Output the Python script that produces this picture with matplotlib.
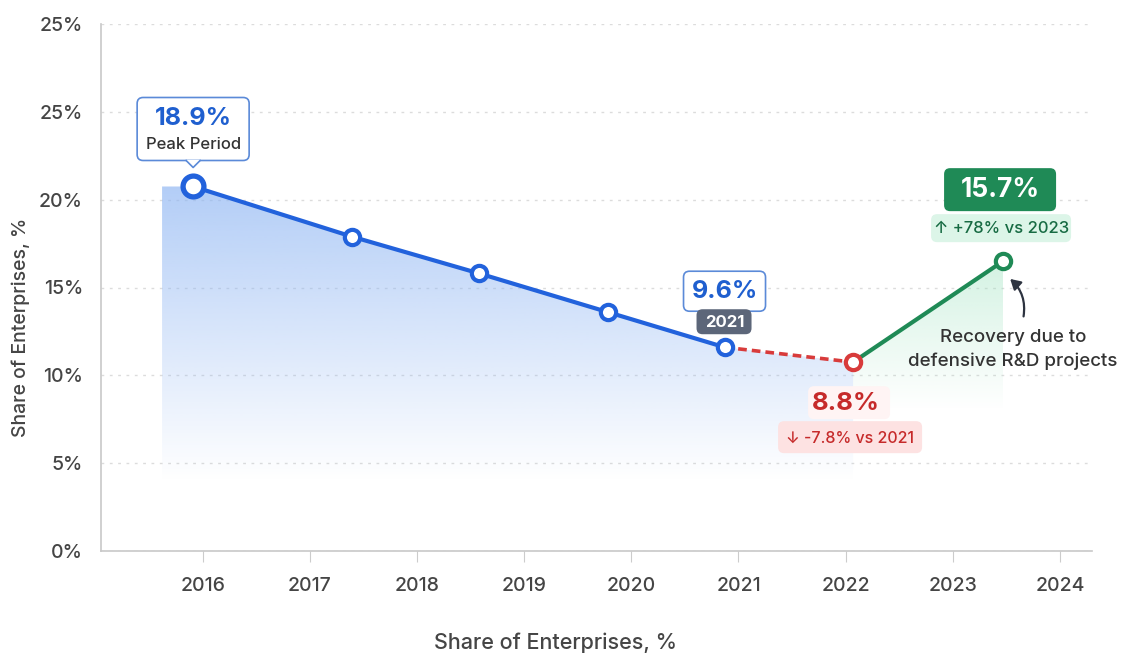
import numpy as np
import matplotlib
matplotlib.use('Agg')
import matplotlib.pyplot as plt
import matplotlib.colors as mcolors
import matplotlib.transforms as mtransforms
from matplotlib.patches import FancyBboxPatch, Polygon, FancyArrowPatch

plt.rcParams['font.family'] = ['Inter', 'DejaVu Sans']

# data
years = [2015.91, 2017.39, 2018.58, 2019.78, 2020.87, 2022.07, 2023.47]
share = [20.75, 17.9, 15.8, 13.6, 11.6, 10.75, 16.5]
tick_years = [2016, 2017, 2018, 2019, 2020, 2021, 2022, 2023, 2024]
y_ticks = [0, 5, 10, 15, 20, 25, 30]
y_labels = ['0%', '5%', '10%', '15%', '20%', '25%', '25%']

BLUE = '#2262dc'
RED = '#d83b3b'
GREEN = '#1f8a56'
GRAY = '#454545'

fig = plt.figure(figsize=(11.22, 6.55), dpi=100)
ax = fig.add_axes([101 / 1122, 1 - 551 / 655, 991 / 1122, 527 / 655])


def at(i):
    # pixel offsets relative to a data point
    return mtransforms.Affine2D() + mtransforms.ScaledTranslation(years[i], share[i], ax.transData)


def grad_fill(xs, ys, color, top, bottom, a0):
    poly = ax.fill_between(xs, ys, 0, color='none', lw=0)
    img = np.zeros((256, 1, 4))
    img[:, :, :3] = mcolors.to_rgb(color)
    img[:, 0, 3] = np.linspace(a0, 0, 256)
    im = ax.imshow(img, extent=[min(xs), max(xs), bottom, top], aspect='auto',
                   origin='upper', zorder=1, interpolation='bilinear')
    im.set_clip_path(poly.get_paths()[0], ax.transData)


# gradient areas
grad_fill([2015.62] + years[:6], [share[0]] + share[:6], '#8fb6f3', share[0], 4.0, 0.68)
grad_fill(years[5:], share[5:], '#9fe3c0', share[6], 8.0, 0.45)

# lines
ax.plot(years[:5], share[:5], color=BLUE, lw=3, zorder=3, solid_capstyle='round')
ax.plot(years[4:6], share[4:6], color=RED, lw=2.6, ls=(0, (2.4, 1.4)), zorder=3)
ax.plot(years[5:], share[5:], color=GREEN, lw=3, zorder=3, solid_capstyle='round')

ax.plot(years[0], share[0], 'o', ms=15, mfc='white', mec=BLUE, mew=3.8, zorder=4)
ax.plot(years[1:5], share[1:5], 'o', ms=11, mfc='white', mec=BLUE, mew=3, zorder=4)
ax.plot(years[5], share[5], 'o', ms=11, mfc='white', mec=RED, mew=3, zorder=4)
ax.plot(years[6], share[6], 'o', ms=11, mfc='white', mec=GREEN, mew=3, zorder=4)

ax.set_xlim(2015.05, 2024.3)
ax.set_ylim(0, 30)
ax.set_xticks(tick_years)
ax.set_xticklabels([str(t) for t in tick_years], fontweight='medium')
ax.set_yticks(y_ticks)
ax.set_yticklabels(y_labels, fontweight='medium')
ax.tick_params(axis='x', length=8, color='#cccccc', labelsize=14, labelcolor=GRAY, pad=11)
ax.tick_params(axis='y', length=0, labelsize=14, labelcolor=GRAY, pad=13)
ax.grid(axis='y', color='#dcdcdc', ls=(0, (2, 4)), lw=1)
ax.set_axisbelow(True)
for s in ['top', 'right']:
    ax.spines[s].set_visible(False)
for s in ['left', 'bottom']:
    ax.spines[s].set_color('#c8c8c8')
    ax.spines[s].set_linewidth(1.2)

fig.text(21 / 1122, 1 - 327 / 655, 'Share of Enterprises, %', rotation=90, ha='center',
         va='center', fontsize=14, color=GRAY, fontweight='medium')
fig.text(556 / 1122, 1 - 643 / 655, 'Share of Enterprises, %', ha='center', va='center',
         fontsize=15.5, color=GRAY, fontweight='medium')


def box(i, x0, x1, y0, y1, fc, ec=None, lw=1.2, pointer=False):
    p = FancyBboxPatch((x0, y0), x1 - x0, y1 - y0, boxstyle='round,pad=0,rounding_size=6',
                       fc=fc, ec=ec if ec else 'none', lw=lw, transform=at(i), zorder=6)
    ax.add_patch(p)
    if pointer:
        tri = Polygon([(-7, y0 + 0.5), (7, y0 + 0.5), (0, y0 - 7)], closed=True, fc=fc,
                      ec='none', transform=at(i), zorder=7)
        ax.add_patch(tri)
        ax.plot([-7, 0, 7], [y0, y0 - 7, y0], color=ec, lw=lw, transform=at(i), zorder=7)


def label(i, dx, dy, s, size, color, weight='normal'):
    ax.text(dx, dy, s, transform=at(i), ha='center', va='center', fontsize=size,
            color=color, fontweight=weight, zorder=8)


# peak
box(0, -56, 56, 26, 89, 'white', '#5b8ad8', pointer=True)
label(0, 0, 68, '18.9%', 18, '#1f5fcf', 'bold')
label(0, 0, 42, 'Peak Period', 12, '#333333', 'medium')

# 2021
box(4, -41, 41, 36, 76, 'white', '#5b8ad8')
label(4, 0, 56, '9.6%', 18, '#1f5fcf', 'bold')
box(4, -28, 27, 13, 38, '#5c6679')
label(4, 0, 25, '2021', 12, 'white', 'bold')

# 2022
box(5, -45, 37, -57, -24, '#fff4f4')
label(5, -7, -41, '8.8%', 18.5, '#c62a2a', 'bold')
box(5, -75, 69, -91, -59, '#fde2e2')
label(5, -3, -76, '\u2193 -7.8% vs 2021', 11.5, '#c62a2a', 'medium')

# 2023
box(6, -59, 53, 50, 93, GREEN)
label(6, -3, 71, '15.7%', 19, 'white', 'bold')
box(6, -72, 68, 19, 47, '#dcf5e8')
label(6, -2, 33, '\u2191 +78% vs 2023', 12, '#176b43', 'medium')

arr = FancyArrowPatch(posA=(20, -58), posB=(5, -16), transform=at(6),
                      connectionstyle='arc3,rad=0.3', arrowstyle='-|>,head_length=6,head_width=3.5',
                      color='#2d3340', lw=1.6, zorder=8)
ax.add_patch(arr)
label(6, 10, -76, 'Recovery due to', 13.5, '#333333', 'medium')
label(6, 10, -100, 'defensive R&D projects', 13.5, '#333333', 'medium')

fig.savefig('out.png', dpi=100)
